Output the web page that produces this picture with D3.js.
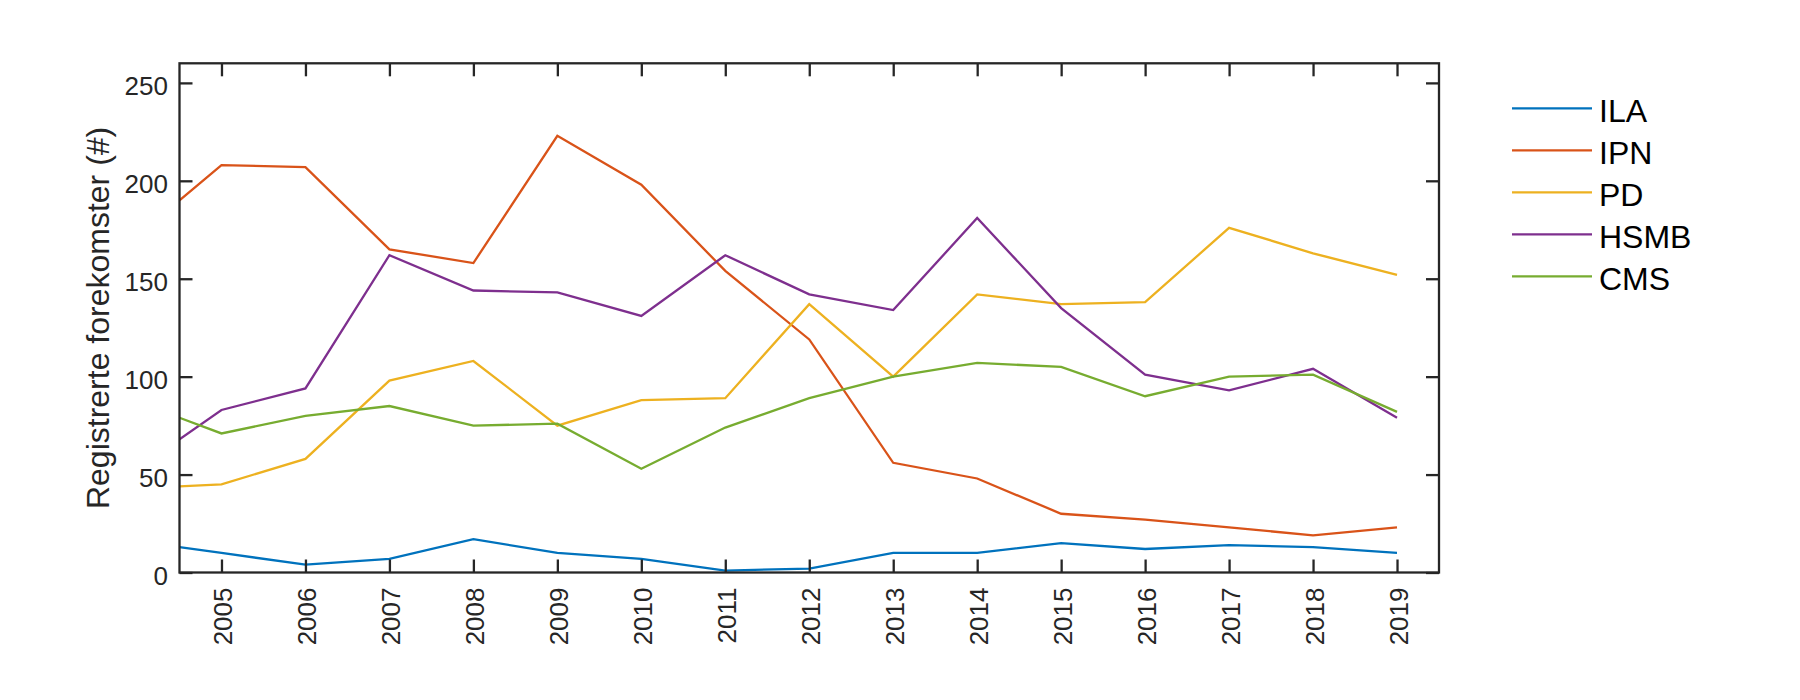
<!DOCTYPE html>
<html>
<head>
<meta charset="utf-8">
<script src="https://cdn.jsdelivr.net/npm/d3@7"></script>
<style>
  html, body { margin: 0; padding: 0; background: #fff; }
  svg { display: block; font-family: "Liberation Sans", Arial, Helvetica, sans-serif; }
</style>
</head>
<body>
<svg id="chart" width="1800" height="700"></svg>
<script>
// ---- data ----
const years = [2004.5, 2005, 2006, 2007, 2008, 2009, 2010, 2011, 2012, 2013, 2014, 2015, 2016, 2017, 2018, 2019];
const seriesNames = ["ILA", "IPN", "PD", "HSMB", "CMS"];
const ILA  = [13, 10, 4, 7, 17, 10, 7, 1, 2, 10, 10, 15, 12, 14, 13, 10];
const IPN  = [190, 208, 207, 165, 158, 223, 198, 154, 119, 56, 48, 30, 27, 23, 19, 23];
const PD   = [44, 45, 58, 98, 108, 75, 88, 89, 137, 100, 142, 137, 138, 176, 163, 152];
const HSMB = [68, 83, 94, 162, 144, 143, 131, 162, 142, 134, 181, 135, 101, 93, 104, 79];
const CMS  = [79, 71, 80, 85, 75, 76, 53, 74, 89, 100, 107, 105, 90, 100, 101, 82];
const xTicks = [2005, 2006, 2007, 2008, 2009, 2010, 2011, 2012, 2013, 2014, 2015, 2016, 2017, 2018, 2019];
const yTicks = [0, 50, 100, 150, 200, 250];
const yLabel = "Registrerte forekomster (#)";
const colors = ["#0072BD", "#D95319", "#EDB120", "#7E2F8E", "#77AC30"];

const seriesValues = [ILA, IPN, PD, HSMB, CMS];

// ---- layout ----
const L = 179.5, R = 1439, T = 63.3, B = 572.5;
const axisColor = "#262626";
const svg = d3.select("#chart");

const x = d3.scaleLinear().domain([2004.5, 2019.5]).range([L, R]);
const y = d3.scaleLinear().domain([0, 260]).range([B, T]);

// clip
svg.append("defs").append("clipPath").attr("id", "plotclip")
  .append("rect").attr("x", L).attr("y", T).attr("width", R - L).attr("height", B - T);

// lines
const line = d3.line().x(d => x(d[0])).y(d => y(d[1]));
const gLines = svg.append("g").attr("clip-path", "url(#plotclip)");
seriesValues.forEach((vals, i) => {
  gLines.append("path")
    .datum(years.map((yr, j) => [yr, vals[j]]))
    .attr("d", line)
    .attr("fill", "none")
    .attr("stroke", colors[i])
    .attr("stroke-width", 2.3)
    .attr("stroke-linejoin", "miter");
});

// axes (inward ticks, all four sides)
const tickLen = 13;
const fs = 26;

const gx = svg.append("g").attr("transform", `translate(0,${B})`)
  .call(d3.axisBottom(x).tickValues(xTicks).tickFormat(d3.format("d")).tickSizeInner(-tickLen).tickSizeOuter(0));
gx.select(".domain").remove();
gx.selectAll(".tick line").attr("stroke", axisColor).attr("stroke-width", 2.3);
gx.selectAll(".tick text")
  .attr("fill", axisColor)
  .style("font-size", fs + "px")
  .attr("text-anchor", "end")
  .attr("dy", null)
  .attr("y", null)
  .attr("transform", "translate(10,15) rotate(-90)");

const gxTop = svg.append("g").attr("transform", `translate(0,${T})`)
  .call(d3.axisTop(x).tickValues(xTicks).tickFormat("").tickSizeInner(-tickLen).tickSizeOuter(0));
gxTop.select(".domain").remove();
gxTop.selectAll(".tick line").attr("stroke", axisColor).attr("stroke-width", 2.3);

const gy = svg.append("g").attr("transform", `translate(${L},0)`)
  .call(d3.axisLeft(y).tickValues(yTicks).tickSizeInner(-tickLen).tickSizeOuter(0));
gy.select(".domain").remove();
gy.selectAll(".tick line").attr("stroke", axisColor).attr("stroke-width", 2.3);
gy.selectAll(".tick text")
  .attr("fill", axisColor)
  .style("font-size", fs + "px")
  .attr("text-anchor", "end")
  .attr("x", -11.5)
  .attr("dy", null)
  .attr("y", 12);

const gyR = svg.append("g").attr("transform", `translate(${R},0)`)
  .call(d3.axisRight(y).tickValues(yTicks).tickFormat("").tickSizeInner(-tickLen).tickSizeOuter(0));
gyR.select(".domain").remove();
gyR.selectAll(".tick line").attr("stroke", axisColor).attr("stroke-width", 2.3);

// box
svg.append("rect")
  .attr("x", L).attr("y", T).attr("width", R - L).attr("height", B - T)
  .attr("fill", "none").attr("stroke", axisColor).attr("stroke-width", 2.3);

// y label
svg.append("text")
  .attr("transform", `translate(108.5,${(T + B) / 2}) rotate(-90)`)
  .attr("text-anchor", "middle")
  .attr("fill", axisColor)
  .style("font-size", "32px")
  .text(yLabel);

// legend
const legX1 = 1512, legX2 = 1592, legTextX = 1599, legY0 = 108.3, legDy = 42;
const gLeg = svg.append("g");
seriesNames.forEach((name, i) => {
  const yy = legY0 + i * legDy;
  gLeg.append("line")
    .attr("x1", legX1).attr("x2", legX2).attr("y1", yy).attr("y2", yy)
    .attr("stroke", colors[i]).attr("stroke-width", 2.3);
  gLeg.append("text")
    .attr("x", legTextX).attr("y", yy + 14)
    .attr("fill", "#000")
    .style("font-size", "32px")
    .text(name);
});
</script>
</body>
</html>
